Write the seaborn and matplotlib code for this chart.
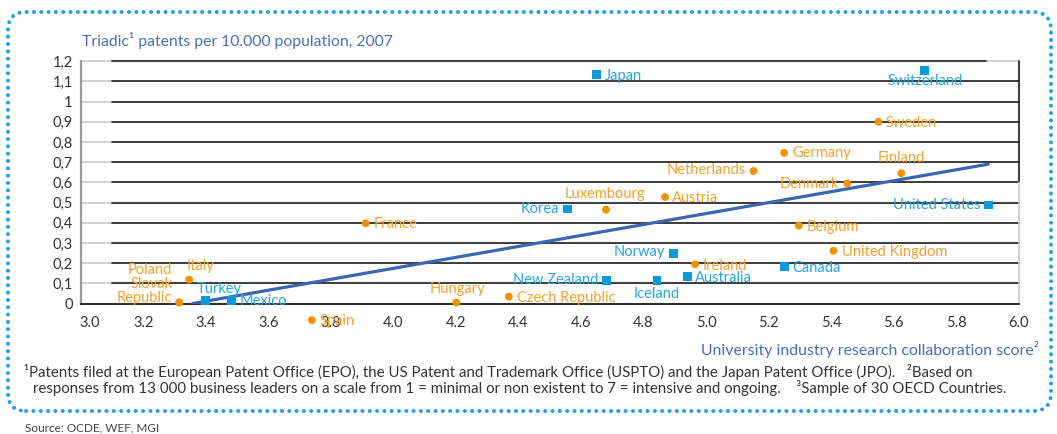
import matplotlib
matplotlib.use("Agg")
import matplotlib.pyplot as plt
import matplotlib.transforms as mtrans
from matplotlib.patches import FancyBboxPatch
from matplotlib.transforms import IdentityTransform
import pandas as pd
import seaborn as sns

# ---- data -------------------------------------------------------------
countries_blue = ["Japan", "Switzerland", "Korea", "United States", "Norway",
                  "Canada", "New Zealand", "Iceland", "Australia", "Turkey", "Mexico"]
score_blue = [4.65, 5.70, 4.557, 5.903, 4.895, 5.25, 4.681, 4.843, 4.942, 3.399, 3.481]
patents_blue = [1.135, 1.154, 0.468, 0.488, 0.248, 0.183, 0.112, 0.112, 0.135, 0.016, 0.016]

countries_orange = ["Sweden", "Germany", "Finland", "Netherlands", "Denmark", "Austria",
                    "Luxembourg", "France", "Belgium", "United Kingdom", "Ireland",
                    "Italy", "Poland", "Slovak\nRepublic", "Hungary", "Czech Republic", "Spain"]
score_orange = [5.552, 5.25, 5.625, 5.152, 5.452, 4.869, 4.68, 3.911, 5.297, 5.408, 4.965,
                3.346, 3.314, 3.314, 4.201, 4.369, 3.739]
patents_orange = [0.90, 0.746, 0.645, 0.656, 0.595, 0.527, 0.465, 0.397, 0.386, 0.261, 0.194,
                  0.118, 0.005, 0.005, 0.005, 0.034, -0.082]

trend_x = [3.357, 5.903]
trend_y = [0.0, 0.690]

x_ticks = [3.0, 3.2, 3.4, 3.6, 3.8, 4.0, 4.2, 4.4, 4.6, 4.8, 5.0, 5.2, 5.4, 5.6, 5.8, 6.0]
x_labels = ["3.0", "3.2", "3.4", "3.6", "3.8", "4.0", "4.2", "4.4", "4.6", "4.8",
            "5.0", "5.2", "5.4", "5.6", "5.8", "6.0"]
y_ticks = [0, 0.1, 0.2, 0.3, 0.4, 0.5, 0.6, 0.7, 0.8, 0.9, 1.0, 1.1, 1.2]
y_labels = ["0", "0,1", "0,2", "0,3", "0,4", "0,5", "0,6", "0,7", "0,8", "0,9", "1", "1,1", "1,2"]

title = "Triadic\u00b9 patents per 10.000 population, 2007"
xlabel = "University industry research collaboration score\u00b2"
note1 = ("\u00b9Patents filed at the European Patent Office (EPO), the US Patent and Trademark "
         "Office (USPTO) and the Japan Patent Office (JPO).   \u00b2Based on")
note2 = ("responses from 13 000 business leaders on a scale from 1 = minimal or non existent "
         "to 7 = intensive and ongoing.    \u00b3Sample of 30 OECD Countries.")
source = "Source: OCDE, WEF, MGI"

# ---- styling ----------------------------------------------------------
sns.set_style("white")
plt.rcParams["font.family"] = ["Lato", "DejaVu Sans"]

BLUE = "#0A9AD9"
BLUE_TXT = "#27A6E0"
ORANGE = "#F39200"
ORANGE_TXT = "#F4A02E"
TREND = "#3B67B1"
TITLE = "#4771B6"
DARK = "#333333"

# label placement: (dx px, dy px, horizontal alignment)
place = {
    "Japan": (8, -2, "left"), "Switzerland": (0, -11, "center"), "Korea": (-8, 0, "right"),
    "United States": (-8, 0, "right"), "Norway": (-8, 1, "right"), "Canada": (8, -1, "left"),
    "New Zealand": (-8, 1, "right"), "Iceland": (0, -13, "center"), "Australia": (7, -2, "left"),
    "Turkey": (-9, 11, "left"), "Mexico": (8, -1, "left"),
    "Sweden": (7, -1, "left"), "Germany": (8, 0, "left"), "Finland": (0, 15, "center"),
    "Netherlands": (-8, 1, "right"), "Denmark": (-8, -1, "right"), "Austria": (7, -1, "left"),
    "Luxembourg": (-1, 16, "center"), "France": (8, -1, "left"), "Belgium": (8, -1, "left"),
    "United Kingdom": (8, -1, "left"), "Ireland": (8, -2, "left"), "Italy": (-3, 14, "left"),
    "Poland": (-7, 32, "right"), "Slovak\nRepublic": (-7, 11, "right"),
    "Hungary": (1, 13, "center"), "Czech Republic": (8, -1, "left"), "Spain": (8, -1, "left"),
}

df = pd.DataFrame({
    "country": countries_blue + countries_orange,
    "score": score_blue + score_orange,
    "patents": patents_blue + patents_orange,
    "group": ["blue"] * len(countries_blue) + ["orange"] * len(countries_orange),
})

W, H = 1057, 434
fig = plt.figure(figsize=(W / 100, H / 100), dpi=100)
ax = fig.add_axes([81 / W, 1 - 303.5 / H, (1018.5 - 81) / W, (303.5 - 61.2) / H])
ax.set_xlim(3.0, 6.0)
ax.set_ylim(0, 1.2)
ax.patch.set_alpha(0)

# grid: grey stub at the left, black across the rest
for yv in y_ticks[1:]:
    ax.plot([3.0, 3.1], [yv, yv], color="#cfcfcf", lw=1.3, zorder=1, clip_on=False)
    xe = 5.9 if yv == 1.2 else 6.0
    ax.plot([3.1, xe], [yv, yv], color="#1a1a1a", lw=1.2, zorder=1, clip_on=False)
ax.plot([5.9, 6.0], [1.2, 1.2], color="#c8c8c8", lw=1.2, zorder=1, clip_on=False)
ax.plot([6.0, 6.0], [0.6, 1.2], color="#1a1a1a", lw=1.2, zorder=1, clip_on=False)
ax.plot([6.0, 6.0], [0.0, 0.6], color="#c8c8c8", lw=1.2, zorder=1, clip_on=False)

for s in ["top", "right"]:
    ax.spines[s].set_visible(False)
ax.spines["left"].set_color("#9a9a9a")
ax.spines["left"].set_linewidth(1.6)
ax.spines["bottom"].set_color("#1a1a1a")
ax.spines["bottom"].set_linewidth(1.3)

sns.lineplot(x=trend_x, y=trend_y, ax=ax, color=TREND, lw=2.3, zorder=3)

sns.scatterplot(data=df, x="score", y="patents", hue="group", style="group",
                markers={"blue": "s", "orange": "o"},
                palette={"blue": BLUE, "orange": ORANGE},
                size="group", sizes={"blue": 40, "orange": 32},
                edgecolor="none", legend=False, ax=ax, zorder=4, clip_on=False)

for _, r in df.iterrows():
    dx, dy, ha = place[r["country"]]
    col = BLUE_TXT if r["group"] == "blue" else ORANGE_TXT
    ax.annotate(r["country"], (r["score"], r["patents"]), xytext=(dx * 0.72, dy * 0.72),
                textcoords="offset points", ha=ha, va="center", color=col,
                fontsize=10.5, linespacing=1.0, zorder=5, annotation_clip=False,
                multialignment="right")

ax.set_xticks(x_ticks)
ax.set_xticklabels(x_labels)
ax.set_yticks(y_ticks)
ax.set_yticklabels(y_labels)
ax.tick_params(axis="x", direction="in", length=6, width=1, color="#333333",
               labelsize=10.5, labelcolor=DARK, pad=9)
ax.tick_params(axis="y", length=0, labelsize=10.5, labelcolor=DARK, pad=6)
ax.set_xlabel("")
ax.set_ylabel("")
first = ax.get_xticklabels()[0]
first.set_ha("left")
first.set_transform(first.get_transform() + mtrans.ScaledTranslation(-2 / 100, 0, fig.dpi_scale_trans))

fig.text(82 / W, 1 - 40.7 / H, title, color=TITLE, fontsize=11.3, va="center", ha="left")
fig.text(1039 / W, 1 - 350 / H, xlabel, color=TITLE, fontsize=11.4, va="center", ha="right")
fig.text(24 / W, 1 - 372.5 / H, note1, color=DARK, fontsize=10.8, va="center", ha="left")
fig.text(33 / W, 1 - 388.5 / H, note2, color=DARK, fontsize=10.8, va="center", ha="left")
fig.text(25 / W, 1 - 428 / H, source, color="#444444", fontsize=8.5, va="center", ha="left")

border = FancyBboxPatch((8, H - 411), 1043, 399,
                        boxstyle="round,pad=0,rounding_size=18",
                        transform=IdentityTransform(), fill=False,
                        edgecolor="#1BA1E2", lw=2.8, linestyle=(0, (0.05, 1.83)),
                        capstyle="round")
fig.patches.append(border)

fig.savefig("out.png", dpi=100)
